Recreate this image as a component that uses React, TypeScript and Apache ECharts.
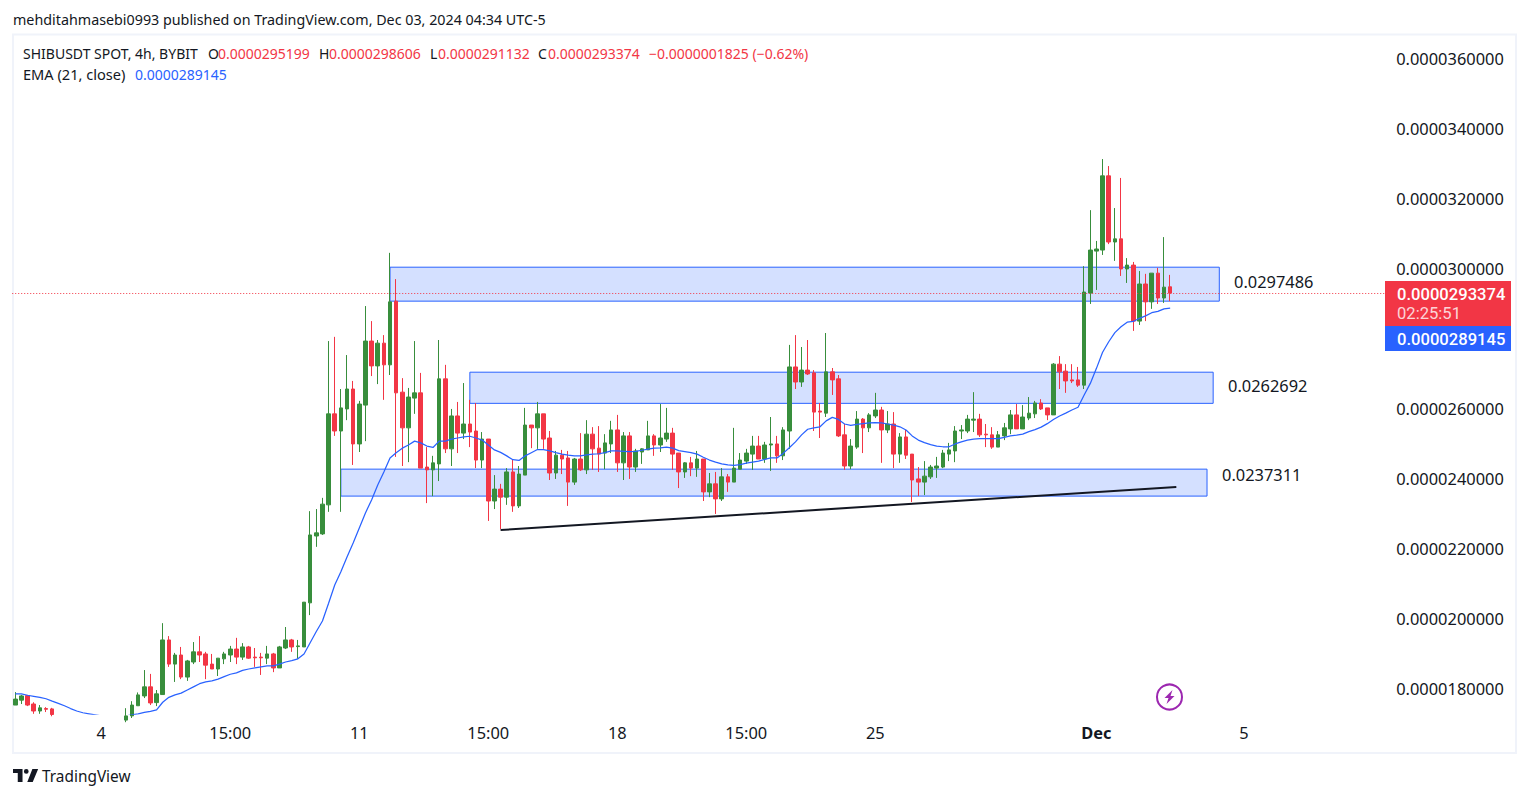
import React, { useEffect, useRef } from "react";
import * as echarts from "echarts";

// All prices in millionths of a USDT (29.34 = 0.0000293400)
const opens = [
  17.57,17.71,17.84,17.60,17.40,17.47,17.46,17.30,17.20,17.12,
  17.18,17.08,16.95,17.02,16.92,16.85,16.98,17.06,17.14,17.26,
  17.55,17.83,18.09,17.64,17.87,19.43,18.74,19.00,18.37,18.80,
  19.09,19.03,18.74,18.60,18.89,19.00,19.17,18.94,19.23,18.94,
  18.94,18.91,19.03,18.63,19.20,19.43,19.24,19.23,20.49,22.40,
  22.46,23.29,25.89,25.40,26.03,26.60,25.03,26.14,27.97,27.26,
  27.91,27.29,29.11,26.51,25.49,26.34,26.49,24.37,24.29,24.46,
  26.89,24.89,25.83,25.34,25.60,25.40,24.57,25.17,23.40,23.74,
  23.51,24.23,23.26,24.14,25.57,25.49,25.89,25.20,24.20,24.71,
  24.63,23.94,24.60,24.29,25.31,24.91,24.77,25.03,25.43,24.49,
  25.26,24.37,24.80,24.86,25.26,25.00,25.17,25.34,24.77,24.23,
  24.49,24.34,24.60,23.66,23.89,23.46,24.09,23.94,24.31,24.54,
  24.74,24.97,24.60,25.00,25.03,24.69,25.40,27.23,26.80,27.14,
  27.06,25.97,25.91,27.09,26.89,25.29,24.40,24.94,25.74,25.49,
  25.83,26.00,25.43,25.60,24.74,25.23,24.74,24.03,23.94,24.09,
  24.34,24.37,24.74,24.83,25.40,25.40,25.71,25.74,25.31,25.29,
  24.94,25.26,25.46,25.86,25.46,25.77,25.89,26.20,26.06,25.86,
  27.31,27.11,26.86,26.86,26.71,29.34,30.54,30.57,32.69,30.80,
  30.89,30.03,30.14,28.54,29.60,29.09,29.91,29.20,29.52,
];
const closes = [
  17.74,17.83,17.57,17.40,17.49,17.45,17.30,17.20,17.12,17.18,
  17.08,16.95,17.02,16.92,16.85,16.98,17.06,17.14,17.26,17.57,
  17.86,18.09,17.63,17.89,19.43,18.74,19.00,18.37,18.83,19.09,
  19.00,18.71,18.60,18.91,19.03,19.17,18.94,19.23,18.91,18.92,
  18.92,19.03,18.63,19.23,19.43,19.23,19.26,20.51,22.43,22.49,
  23.31,25.89,25.40,26.06,26.60,25.03,26.17,27.97,27.26,27.91,
  27.29,29.09,26.49,25.49,26.37,26.49,24.34,24.29,24.49,26.89,
  24.89,25.83,25.34,25.60,25.37,24.57,25.17,23.40,23.74,23.51,
  24.23,23.26,24.17,25.57,25.49,25.89,25.17,24.20,24.71,24.60,
  23.94,24.60,24.29,25.31,24.89,24.74,25.06,25.43,24.49,25.26,
  24.37,24.83,24.89,25.26,25.00,25.20,25.34,24.74,24.23,24.49,
  24.34,24.60,23.66,23.89,23.46,24.09,23.94,24.34,24.57,24.77,
  24.97,24.60,25.00,25.03,24.69,25.43,27.23,26.80,27.14,27.03,
  25.94,25.94,27.09,26.86,25.26,24.40,24.97,25.74,25.49,25.86,
  26.00,25.43,25.60,24.74,25.23,24.71,24.00,23.94,24.11,24.37,
  24.40,24.77,24.86,25.40,25.43,25.74,25.74,25.29,25.29,24.94,
  25.29,25.49,25.86,25.46,25.80,25.91,26.20,26.03,25.86,27.31,
  27.09,26.83,26.83,26.71,29.37,30.57,30.60,32.69,30.80,30.89,
  30.03,30.14,28.54,29.60,29.09,29.91,29.20,29.51,29.34,
];
const lows = [
  17.57,17.60,17.54,17.32,17.32,17.37,17.25,17.12,17.05,17.06,
  17.00,16.88,16.90,16.85,16.76,16.80,16.94,17.00,17.08,17.20,
  17.55,17.77,17.57,17.54,17.87,18.66,18.23,18.31,18.26,18.74,
  18.80,18.31,18.60,18.40,18.74,18.80,18.74,18.86,18.89,18.66,
  18.43,18.74,18.51,18.63,19.17,19.09,18.89,19.23,20.14,22.09,
  22.43,23.09,25.26,23.09,25.71,24.43,24.80,25.11,26.97,26.74,
  26.29,27.00,24.66,24.40,24.51,25.89,24.34,23.34,23.54,23.97,
  24.77,24.40,24.77,25.17,24.94,24.34,24.34,22.83,23.17,22.60,
  23.29,23.09,23.20,24.14,24.91,24.89,24.89,24.00,24.03,24.17,
  23.26,23.86,24.26,24.17,24.29,24.23,24.31,24.77,24.23,24.00,
  24.03,24.23,24.46,24.86,24.69,24.80,25.09,24.29,23.77,24.06,
  24.11,24.09,23.40,23.51,23.03,23.40,23.66,23.94,24.31,24.46,
  24.29,24.60,24.49,24.26,24.49,24.57,24.89,26.60,26.66,27.00,
  25.40,25.20,25.80,26.43,25.23,24.29,24.31,24.89,24.77,25.37,
  25.77,24.49,25.34,24.34,24.49,24.60,23.37,23.54,23.57,24.03,
  24.06,24.34,24.54,24.51,25.17,25.34,25.37,25.23,24.94,24.89,
  24.94,25.14,25.31,25.46,25.46,25.71,25.77,26.00,25.71,25.86,
  26.60,26.49,26.77,26.66,26.60,29.03,29.43,30.43,30.74,30.26,
  29.83,29.63,28.26,28.43,28.54,28.89,29.03,29.06,29.11,
];
const highs = [
  17.94,17.86,17.86,17.65,17.57,17.51,17.49,17.30,17.26,17.24,
  17.22,17.12,17.08,17.06,16.98,17.04,17.12,17.22,17.48,17.68,
  17.93,18.57,18.46,18.00,19.91,19.54,19.06,19.23,18.86,19.37,
  19.54,19.09,19.03,18.91,19.09,19.26,19.49,19.34,19.26,19.20,
  19.06,19.26,19.06,19.26,19.80,19.46,19.43,20.51,23.11,23.17,
  23.49,27.97,28.09,26.60,27.57,26.83,26.26,28.97,28.54,28.00,
  28.14,30.49,29.74,26.91,26.63,27.97,27.06,24.94,24.69,28.00,
  27.29,26.03,26.23,26.77,26.29,26.20,25.37,25.17,24.14,23.89,
  24.34,24.57,24.40,26.06,25.57,26.23,25.89,25.40,24.83,24.86,
  24.83,24.63,25.34,25.71,25.51,25.54,25.31,25.69,25.86,25.37,
  25.37,24.89,24.91,25.69,25.31,26.17,26.06,25.49,24.77,24.51,
  24.66,24.83,24.60,24.20,24.23,24.34,24.17,25.49,24.77,24.89,
  25.26,25.26,25.09,25.80,25.26,25.51,27.86,28.14,27.80,28.00,
  27.14,26.20,28.20,27.20,27.00,25.60,25.17,25.97,25.77,25.91,
  26.49,26.09,25.97,25.94,25.34,25.43,24.74,24.37,24.54,24.43,
  24.66,24.86,25.06,25.54,25.57,25.86,26.51,25.89,25.60,25.51,
  25.40,25.63,26.00,26.17,26.14,26.37,26.26,26.31,26.06,27.34,
  27.54,27.31,27.31,27.23,30.11,31.71,30.83,33.17,32.97,31.77,
  32.63,30.34,30.23,29.97,29.89,29.91,30.06,30.94,29.86,
];
const ema21 = [
  17.89,17.89,17.85,17.82,17.79,17.75,17.68,17.62,17.55,17.47,
  17.40,17.35,17.32,17.29,17.26,17.23,17.21,17.23,17.26,17.29,
  17.32,17.36,17.39,17.43,17.65,17.79,17.86,17.91,18.00,18.09,
  18.18,18.23,18.26,18.31,18.38,18.45,18.49,18.56,18.60,18.63,
  18.66,18.69,18.69,18.74,18.80,18.84,18.89,19.03,19.35,19.67,
  19.97,20.48,21.00,21.38,21.80,22.20,22.63,23.06,23.43,23.86,
  24.23,24.63,24.78,24.91,25.00,25.11,25.06,24.97,24.93,25.11,
  25.11,25.17,25.20,25.23,25.25,25.20,25.14,25.00,24.86,24.79,
  24.69,24.58,24.56,24.69,24.78,24.87,24.87,24.83,24.78,24.74,
  24.71,24.69,24.69,24.72,24.74,24.75,24.78,24.83,24.83,24.82,
  24.81,24.82,24.85,24.88,24.91,24.92,24.94,24.91,24.84,24.81,
  24.78,24.74,24.65,24.57,24.51,24.46,24.43,24.42,24.44,24.48,
  24.51,24.54,24.59,24.63,24.63,24.76,24.92,25.09,25.29,25.45,
  25.49,25.52,25.69,25.79,25.73,25.60,25.56,25.59,25.61,25.63,
  25.64,25.63,25.60,25.57,25.52,25.43,25.26,25.14,25.07,25.01,
  24.97,24.95,24.95,25.03,25.09,25.14,25.17,25.18,25.18,25.18,
  25.18,25.22,25.26,25.28,25.31,25.38,25.44,25.51,25.61,25.73,
  25.83,25.91,26.00,26.08,26.43,26.76,27.19,27.65,27.95,28.21,
  28.38,28.51,28.53,28.62,28.69,28.78,28.82,28.89,28.91,
];

const slotCount = 224;
const tickIndexes = [14, 35, 56, 77, 98, 119, 140, 176, 200];
const tickLabels = ["4", "15:00", "11", "15:00", "18", "15:00", "25", "Dec", "5"];
const priceTicks = [18, 20, 22, 24, 26, 28, 30, 32, 34, 36];

const zoneStarts = [61, 74, 53];
const zoneEnds = [196, 195, 194];
const zoneTops = [30.08, 27.08, 24.31];
const zoneBottoms = [29.11, 26.19, 23.54];
const zoneLabels = ["0.0297486", "0.0262692", "0.0237311"];

const trendSlots = [79, 189];
const trendPrices = [22.57, 23.8];

const lastClose = 29.3374;

const GREEN = "#388E3C";
const RED = "#F23645";
const BLUE = "#2962FF";
const INK = "#131722";
const FONT = '"Noto Sans", sans-serif';
const TAG_FONT = "Roboto, sans-serif";
const AXIS_SIZE = 16.4;

const fmt = (v: number) => (v / 1e6).toFixed(10);

echarts.graphic.registerShape(
  "tvlogo",
  echarts.graphic.extendPath(
    "M14 0H0v6h7v13h7V0zM29 19h-8L28.5 0H37l-8 19zM23 3.5a3.5 3.5 0 1 1-7 0a3.5 3.5 0 1 1 7 0z",
    {}
  )
);

function txt(text: string, x: number, y: number, size: number, fill: string, extra: any = {}) {
  return {
    type: "text",
    x,
    y,
    z: 30,
    silent: true,
    style: {
      text,
      fill,
      font: `${extra.weight || 400} ${size}px ${extra.family || FONT}`,
      textVerticalAlign: "middle",
      textAlign: "left",
      opacity: extra.opacity ?? 1,
    },
  };
}

export default function App() {
  const ref = useRef<HTMLDivElement>(null);

  useEffect(() => {
    const chart = echarts.init(ref.current!, null, { renderer: "svg" });
    const zonePairs = zoneStarts.map((s, i) => [
      { xAxis: s, yAxis: zoneTops[i] },
      { xAxis: zoneEnds[i], yAxis: zoneBottoms[i] },
    ]);
    chart.setOption({
      animation: false,
      backgroundColor: "#ffffff",
      grid: { left: 12.23, top: 35, width: 1376, height: 679, containLabel: false },
      xAxis: {
        type: "category",
        data: Array.from({ length: slotCount }, (_, i) => String(i)),
        axisLine: { show: false },
        axisTick: { show: false },
        splitLine: { show: false },
        axisLabel: {
          interval: (i: number) => tickIndexes.includes(i),
          hideOverlap: false,
          margin: 10,
          color: INK,
          fontFamily: FONT,
          fontSize: AXIS_SIZE,
          formatter: (v: string) => {
            const t = tickLabels[tickIndexes.indexOf(Number(v))] ?? "";
            return t === "Dec" ? `{b|${t}}` : t;
          },
          rich: { b: { fontWeight: 700, color: INK, fontFamily: FONT, fontSize: AXIS_SIZE } },
        },
      },
      yAxis: {
        type: "value",
        position: "right",
        min: (1320 - 714) / 35,
        max: (1320 - 35) / 35,
        axisLine: { show: false },
        axisTick: { show: false },
        splitLine: { show: false },
        axisLabel: {
          customValues: priceTicks,
          margin: 8,
          color: INK,
          fontFamily: FONT,
          fontSize: AXIS_SIZE,
          formatter: (v: number) => `{p|${fmt(v)}}`,
          rich: { p: { padding: [0, 0, 4, 0], color: INK, fontFamily: FONT, fontSize: AXIS_SIZE } },
        },
      },
      series: [
        {
          type: "candlestick",
          barWidth: 4,
          z: 3,
          data: opens.map((o, i) => [o, closes[i], lows[i], highs[i]]),
          itemStyle: { color: GREEN, color0: RED, borderColor: GREEN, borderColor0: RED, borderWidth: 1 },
        },
        {
          type: "line",
          name: "EMA (21, close)",
          data: ema21,
          z: 4,
          showSymbol: false,
          symbol: "none",
          lineStyle: { color: BLUE, width: 1.25 },
          itemStyle: { color: BLUE },
          markArea: {
            silent: true,
            z: 1,
            itemStyle: { color: "rgba(41,98,255,0.2)", borderColor: BLUE, borderWidth: 1 },
            label: { show: false },
            data: zonePairs,
          },
          markLine: {
            silent: true,
            animation: false,
            symbol: "none",
            label: { show: false },
            data: [
              { yAxis: lastClose, lineStyle: { color: RED, width: 1, type: [1, 2] } },
              [
                { coord: [trendSlots[0], trendPrices[0]], lineStyle: { color: INK, width: 2, type: "solid" } },
                { coord: [trendSlots[1], trendPrices[1]] },
              ],
            ],
          },
        },
      ],
      graphic: [
        { type: "rect", z: 1, silent: true, shape: { x: 13, y: 34.5, width: 1503, height: 718.5 }, style: { fill: "none", stroke: "#F0F3FA", lineWidth: 2 } },
        txt("mehditahmasebi0993 published on TradingView.com, Dec 03, 2024 04:34 UTC-5", 13, 19, 14.3, INK),
        txt("SHIBUSDT SPOT, 4h, BYBIT", 23, 53, 14, INK),
        txt("O", 208, 53, 14, INK),
        txt("0.0000295199", 218, 53, 14, RED),
        txt("H", 319, 53, 14, INK),
        txt("0.0000298606", 329, 53, 14, RED),
        txt("L", 430, 53, 14, INK),
        txt("0.0000291132", 438, 53, 14, RED),
        txt("C", 538, 53, 14, INK),
        txt("0.0000293374", 548, 53, 14, RED),
        txt("\u22120.0000001825 (\u22120.62%)", 649, 53, 14, RED),
        txt("EMA (21, close)", 23, 74, 14.6, INK),
        txt("0.0000289145", 135, 74, 14, BLUE),
        txt(zoneLabels[0], 1234, 281, AXIS_SIZE, INK),
        txt(zoneLabels[1], 1228, 385, AXIS_SIZE, INK),
        txt(zoneLabels[2], 1222, 474, AXIS_SIZE, INK),
        { type: "rect", z: 20, silent: true, shape: { x: 1385, y: 281, width: 126, height: 45 }, style: { fill: RED } },
        { type: "rect", z: 20, silent: true, shape: { x: 1385, y: 326, width: 126, height: 25 }, style: { fill: BLUE } },
        txt("0.0000293374", 1397, 294, 16.6, "#ffffff", { weight: 500, family: TAG_FONT }),
        txt("02:25:51", 1397, 313, 16.6, "#ffffff", { opacity: 0.8, family: TAG_FONT }),
        txt("0.0000289145", 1397, 339, 16.6, "#ffffff", { weight: 500, family: TAG_FONT }),
        { type: "circle", z: 20, silent: true, shape: { cx: 1169.5, cy: 697, r: 12.5 }, style: { fill: "#ffffff", stroke: "#9C27B0", lineWidth: 2 } },
        {
          type: "polygon",
          z: 21,
          silent: true,
          shape: { points: [[1172.5, 690], [1164.5, 698], [1168.5, 698], [1166.5, 704], [1174.5, 696], [1170.5, 696]] },
          style: { fill: "#9C27B0" },
        },
        { type: "tvlogo", z: 30, silent: true, x: 13, y: 769, scaleX: 0.68, scaleY: 0.68, style: { fill: INK } },
        txt("TradingView", 42, 776, 15.4, INK),
      ],
    });
    return () => chart.dispose();
  }, []);

  return <div ref={ref} style={{ position: "fixed", left: 0, top: 0, width: 1529, height: 798, background: "#fff" }} />;
}
